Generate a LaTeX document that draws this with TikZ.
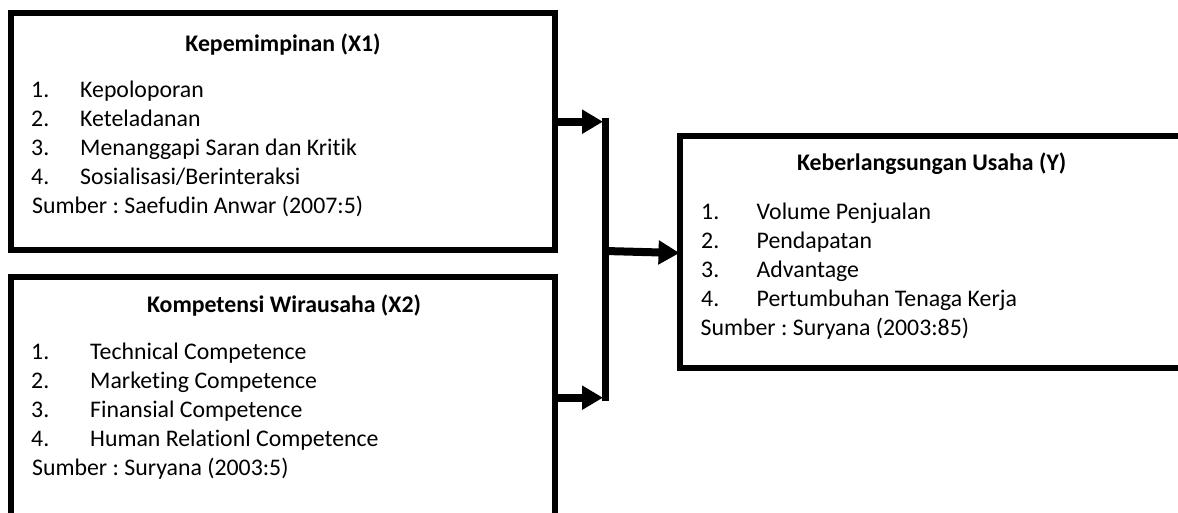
\documentclass[tikz,border=0pt]{standalone}
\usepackage{fontspec}
\setmainfont[Ligatures=NoCommon]{Carlito}
\usetikzlibrary{arrows.meta}
\frenchspacing
\tikzset{
  box/.style={draw=black, line width=6pt, rectangle, inner sep=0pt, outer sep=0pt},
  ttl/.style={anchor=base, inner sep=0pt, font=\fontsize{23.8}{28}\selectfont\bfseries},
  txt/.style={anchor=base west, inner sep=0pt, font=\fontsize{23.8}{28}\selectfont\frenchspacing},
  conn/.style={line width=8pt, -{Triangle[length=21pt,width=23pt]}},
  bar/.style={line width=7.5pt}
}
\begin{document}
\begin{tikzpicture}[x=1pt,y=-1pt]
\clip (0,0) rectangle (1178,512);
\fill[white] (0,0) rectangle (1178,512);
% boxes
\node[box, minimum width=543.5pt, minimum height=237pt] (b1) at (282.75,131.5) {};
\node[box, minimum width=543.5pt, minimum height=283pt] (b2) at (282.75,418.5) {};
\node[box, minimum width=510.5pt, minimum height=232.5pt] (b3) at (934.75,251.75) {};
% box 1 text
\node[ttl] (t1) at (283,51.7) {Kepemimpinan (X1)};
\node[txt] (n11) at (31,97) {1.};  \node[txt] (i11) at (80,97) {Kepoloporan};
\node[txt] (n12) at (31,126) {2.}; \node[txt] (i12) at (80,126) {Keteladanan};
\node[txt] (n13) at (31,155) {3.}; \node[txt] (i13) at (80,155) {Menanggapi Saran dan Kritik};
\node[txt] (n14) at (31,184) {4.}; \node[txt] (i14) at (80,184) {Sosialisasi/Berinteraksi};
\node[txt] (s1) at (32,213) {Sumber : Saefudin Anwar (2007:5)};
% box 2 text
\node[ttl] (t2) at (284,312.5) {Kompetensi Wirausaha (X2)};
\node[txt] (n21) at (31,359.5) {1.}; \node[txt] (i21) at (90,359.5) {Technical Competence};
\node[txt] (n22) at (31,388.5) {2.}; \node[txt] (i22) at (90,388.5) {Marketing Competence};
\node[txt] (n23) at (31,417.5) {3.}; \node[txt] (i23) at (90,417.5) {Finansial Competence};
\node[txt] (n24) at (31,446.5) {4.}; \node[txt] (i24) at (90,446.5) {Human Relationl Competence};
\node[txt] (s2) at (32,475.5) {Sumber : Suryana (2003:5)};
% box 3 text
\node[ttl] (t3) at (931.7,170) {Keberlangsungan Usaha (Y)};
\node[txt] (n31) at (701,219) {1.}; \node[txt] (i31) at (756.5,219) {Volume Penjualan};
\node[txt] (n32) at (701,248) {2.}; \node[txt] (i32) at (756.5,248) {Pendapatan};
\node[txt] (n33) at (701,277) {3.}; \node[txt] (i33) at (756.5,277) {Advantage};
\node[txt] (n34) at (701,306) {4.}; \node[txt] (i34) at (756.5,306) {Pertumbuhan Tenaga Kerja};
\node[txt] (s3) at (700.5,335) {Sumber : Suryana (2003:85)};
% connectors
\coordinate (vt) at (605.5,118);
\coordinate (vb) at (605.5,401);
\draw[bar] (vt) -- (vb);
\coordinate (a1) at (603,121.7);
\coordinate (a2) at (603,397.7);
\coordinate (m) at (605.5,251);
\draw[conn] (b1.east |- a1) -- (a1);
\draw[conn] (b2.east |- a2) -- (a2);
\draw[conn] (m) -- (b3.west |- 0,253);
\end{tikzpicture}
\end{document}
